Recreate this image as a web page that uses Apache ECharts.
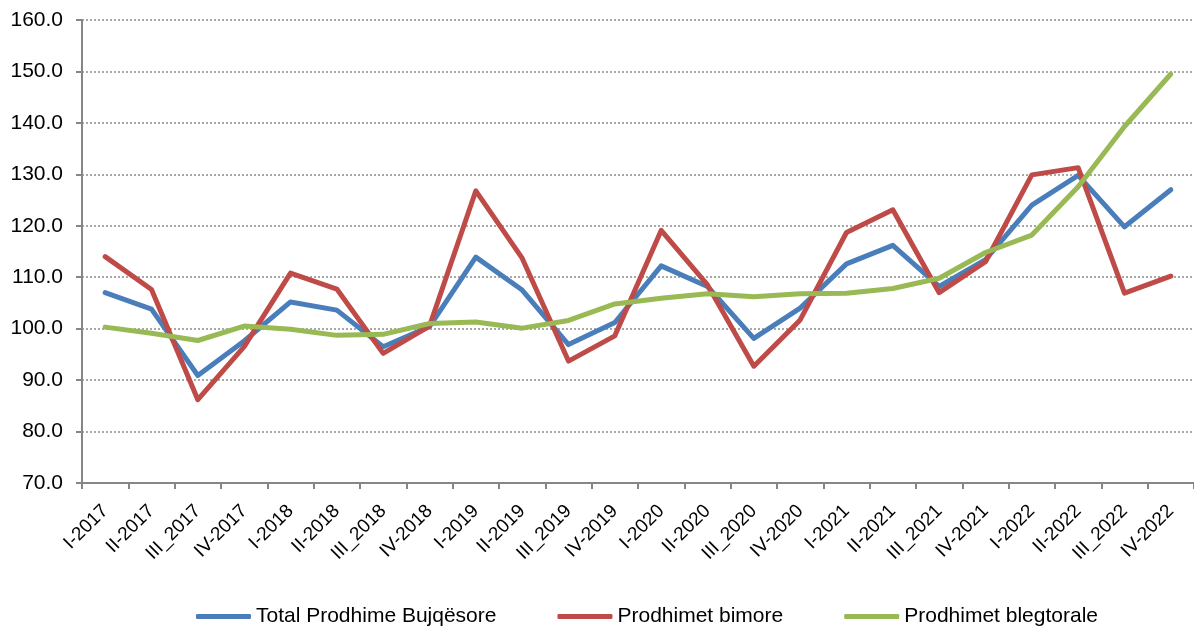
<!DOCTYPE html>
<html>
<head>
<meta charset="utf-8">
<script src="https://cdn.jsdelivr.net/npm/echarts@6/dist/echarts.min.js"></script>
<style>
  html, body { margin: 0; padding: 0; background: #fff; }
  #chart { width: 1194px; height: 626px; }
</style>
</head>
<body>
<div id="chart"></div>
<script>
// quarters
const categories = [
  "I-2017", "II-2017", "III_2017", "IV-2017",
  "I-2018", "II-2018", "III_2018", "IV-2018",
  "I-2019", "II-2019", "III_2019", "IV-2019",
  "I-2020", "II-2020", "III_2020", "IV-2020",
  "I-2021", "II-2021", "III_2021", "IV-2021",
  "I-2022", "II-2022", "III_2022", "IV-2022"
];

const totalProdhime = [
  107.0, 103.8, 90.9, 97.6, 105.2, 103.6, 96.5, 100.4,
  113.9, 107.5, 96.9, 101.2, 112.2, 108.2, 98.1, 104.0,
  112.6, 116.2, 108.2, 113.4, 124.0, 129.8, 119.8, 127.0
];
const prodhimetBimore = [
  114.0, 107.6, 86.2, 96.5, 110.8, 107.7, 95.2, 100.5,
  126.8, 113.7, 93.7, 98.6, 119.1, 108.5, 92.7, 101.7,
  118.7, 123.1, 107.0, 113.0, 129.9, 131.3, 106.9, 110.2
];
const prodhimetBlegtorale = [
  100.3, 99.1, 97.7, 100.5, 99.9, 98.7, 98.9, 101.0,
  101.3, 100.1, 101.6, 104.8, 105.9, 106.8, 106.2, 106.8,
  106.9, 107.8, 109.8, 114.8, 118.2, 127.6, 139.3, 149.5
];

const yTicks = { min: 70, max: 160, interval: 10 };

let chart = echarts.init(document.getElementById("chart"));
let axisColor = "#868686";
let font = "Liberation Sans, Arial, sans-serif";

function lineSeries(name, color, data) {
  return {
    name,
    type: "line",
    symbol: "none",
    data,
    lineStyle: { color, width: 5, cap: "round", join: "round" },
    itemStyle: { color }
  };
}

let option = {
  animation: false,
  grid: { left: 82, right: 0, top: 20, bottom: 143 },
  legend: {
    top: 601,
    left: 191,
    icon: "roundRect",
    itemWidth: 55,
    itemHeight: 5,
    itemGap: 61,
    textStyle: { fontFamily: font, fontSize: 21, color: "#000" },
    data: ["Total Prodhime Bujqësore", "Prodhimet bimore", "Prodhimet blegtorale"]
  },
  xAxis: {
    type: "category",
    data: categories,
    boundaryGap: true,
    axisLine: { lineStyle: { color: axisColor, width: 2 } },
    axisTick: { show: true, length: 6, lineStyle: { color: axisColor, width: 2 } },
    axisLabel: {
      interval: 0,
      rotate: 45,
      margin: 25,
      color: "#000",
      fontFamily: font,
      fontSize: 19
    }
  },
  yAxis: {
    type: "value",
    min: yTicks.min,
    max: yTicks.max,
    interval: yTicks.interval,
    axisLine: { show: true, lineStyle: { color: axisColor, width: 2 } },
    axisTick: { show: true, length: 6, lineStyle: { color: axisColor, width: 2 } },
    axisLabel: {
      margin: 19,
      color: "#000",
      fontFamily: font,
      fontSize: 21,
      formatter: v => v.toFixed(1)
    },
    splitLine: { lineStyle: { color: "#8c8c8c", type: [2, 2], width: 1.5 } }
  },
  series: [
    lineSeries("Total Prodhime Bujqësore", "#4a7ebb", totalProdhime),
    lineSeries("Prodhimet bimore", "#be4b48", prodhimetBimore),
    lineSeries("Prodhimet blegtorale", "#98b954", prodhimetBlegtorale)
  ]
};

chart.setOption(option);
</script>
</body>
</html>
